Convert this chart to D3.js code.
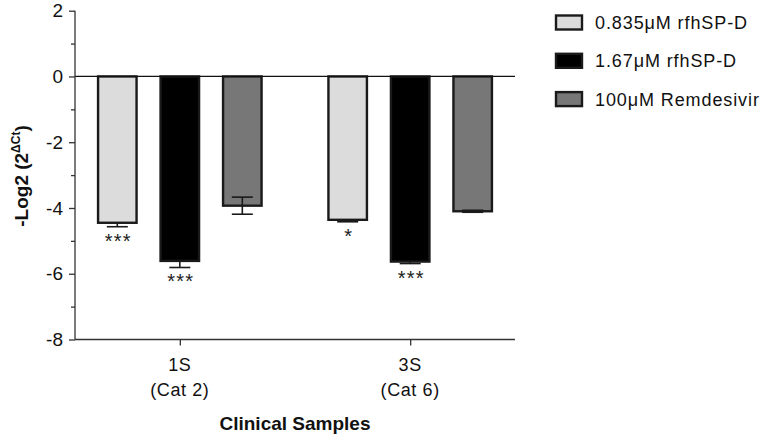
<!DOCTYPE html>
<html>
<head>
<meta charset="utf-8">
<script src="https://cdn.jsdelivr.net/npm/d3@7"></script>
<style>
  html, body { margin: 0; padding: 0; background: #fff; }
  svg { display: block; font-family: "Liberation Sans", Arial, Helvetica, sans-serif; }
</style>
</head>
<body>
<svg id="chart" width="762" height="436"></svg>
<script>
// ---- data ----
const categories = ["1S", "3S"];
const categorySub = ["(Cat 2)", "(Cat 6)"];
const seriesNames = ["0.835\u03BCM rfhSP-D", "1.67\u03BCM rfhSP-D", "100\u03BCM Remdesivir"];
const seriesColors = ["#dcdcdc", "#000000", "#777777"];
const lowDose = [-4.45, -4.36];
const highDose = [-5.61, -5.63];
const remdesivir = [-3.93, -4.10];
const lowDoseErr = [0.12, 0.06];
const highDoseErr = [0.20, 0.06];
const remdesivirErr = [0.26, 0.03];
const lowDoseSig = ["***", "*"];
const highDoseSig = ["***", "***"];
const remdesivirSig = ["", ""];
const errBothWays = [false, false, true];
const yTicks = [-8, -6, -4, -2, 0, 2];
const yMinorTicks = [-7, -5, -3, -1, 1];

const seriesValues = [lowDose, highDose, remdesivir];
const seriesErrs = [lowDoseErr, highDoseErr, remdesivirErr];
const seriesSig = [lowDoseSig, highDoseSig, remdesivirSig];

// ---- layout ----
const svg = d3.select("#chart");
const mLeft = 75, mRight = 515, mTop = 10.7, mBottom = 339.5;

const y = d3.scaleLinear().domain([-8, 2]).range([mBottom, mTop]);
const x0 = d3.scalePoint().domain(categories).range([mLeft, mRight]).padding(0.455);
const x1 = d3.scaleBand().domain(seriesNames).range([-81.75, 81.75]).paddingInner(0.384).paddingOuter(0);

const rows = [];
categories.forEach((c, ci) => {
  seriesNames.forEach((s, si) => {
    rows.push({cat: c, ci, s, si, v: seriesValues[si][ci], e: seriesErrs[si][ci], sig: seriesSig[si][ci]});
  });
});

// bars
const bw = x1.bandwidth();
svg.append("g").selectAll("rect").data(rows).join("rect")
  .attr("x", d => x0(d.cat) + x1(d.s))
  .attr("y", d => y(0))
  .attr("width", bw)
  .attr("height", d => y(d.v) - y(0))
  .attr("fill", d => seriesColors[d.si])
  .attr("stroke", "#1a1a1a")
  .attr("stroke-width", 2.4);

// error bars
const eg = svg.append("g").attr("stroke", "#1a1a1a").attr("stroke-width", 1.6);
rows.forEach(d => {
  const cx = x0(d.cat) + x1(d.s) + bw / 2;
  const lo = d.v - d.e;
  const hi = errBothWays[d.si] ? d.v + d.e : d.v;
  eg.append("line").attr("x1", cx).attr("x2", cx).attr("y1", y(hi)).attr("y2", y(lo));
  eg.append("line").attr("x1", cx - 10.5).attr("x2", cx + 10.5).attr("y1", y(lo)).attr("y2", y(lo));
  if (errBothWays[d.si]) {
    eg.append("line").attr("x1", cx - 10.5).attr("x2", cx + 10.5).attr("y1", y(hi)).attr("y2", y(hi));
  }
});

// significance stars
svg.append("g").selectAll("text").data(rows.filter(d => d.sig)).join("text")
  .attr("x", d => x0(d.cat) + x1(d.s) + bw / 2 + 1)
  .attr("y", d => y(d.v - d.e) + 21)
  .attr("text-anchor", "middle")
  .attr("font-size", 20)
  .attr("letter-spacing", 1.2)
  .attr("fill", "#222")
  .text(d => d.sig);

// zero line
svg.append("line")
  .attr("x1", mLeft).attr("x2", mRight)
  .attr("y1", y(0)).attr("y2", y(0))
  .attr("stroke", "#111").attr("stroke-width", 1.2);

// y axis
const yAxis = d3.axisLeft(y).tickValues(yTicks).tickSize(6).tickPadding(6).tickFormat(d => String(d));
const yg = svg.append("g").attr("transform", `translate(${mLeft},0)`).call(yAxis);
yg.select(".domain").attr("stroke", "#333").attr("stroke-width", 1.3).attr("d", `M-0,${y(2)}V${y(-8)}`);
yg.selectAll(".tick line").attr("stroke", "#333").attr("stroke-width", 1.3);
yg.selectAll(".tick text").attr("font-size", 19).attr("fill", "#111").attr("font-family", "Liberation Sans, Arial, sans-serif");
const yMinor = d3.axisLeft(y).tickValues(yMinorTicks).tickSize(4).tickFormat("");
const ym = svg.append("g").attr("transform", `translate(${mLeft},0)`).call(yMinor);
ym.select(".domain").remove();
ym.selectAll(".tick line").attr("stroke", "#333").attr("stroke-width", 1.3);

// x axis
const xAxis = d3.axisBottom(x0).tickSize(6).tickFormat("");
const xg = svg.append("g").attr("transform", `translate(0,${mBottom})`).call(xAxis);
xg.select(".domain").attr("stroke", "#333").attr("stroke-width", 1.3).attr("d", `M${mLeft},0H${mRight}`);
xg.selectAll(".tick line").attr("stroke", "#333").attr("stroke-width", 1.3);

// category labels
const cl = svg.append("g").attr("font-size", 18).attr("fill", "#111").attr("text-anchor", "middle").attr("letter-spacing", 0.6);
categories.forEach((c, i) => {
  cl.append("text").attr("x", x0(c)).attr("y", 371).text(c);
  cl.append("text").attr("x", x0(c)).attr("y", 395.5).text(categorySub[i]);
});

// x title
svg.append("text")
  .attr("x", 295).attr("y", 430)
  .attr("text-anchor", "middle")
  .attr("font-size", 19).attr("font-weight", "bold").attr("fill", "#111")
  .text("Clinical Samples");

// y title
const yt = svg.append("text")
  .attr("transform", "translate(28,176) rotate(-90)")
  .attr("text-anchor", "middle")
  .attr("font-size", 19).attr("font-weight", "bold").attr("fill", "#111");
yt.append("tspan").text("-Log2 (2");
yt.append("tspan").attr("font-size", 12).attr("dy", -8).text("\u0394Ct");
yt.append("tspan").attr("dy", 8).text(")");

// legend
const lg = svg.append("g");
seriesNames.forEach((s, i) => {
  const cy = 22.5 + i * 38.3;
  lg.append("rect").attr("x", 556).attr("y", cy - 7).attr("width", 26).attr("height", 14)
    .attr("fill", seriesColors[i]).attr("stroke", "#1a1a1a").attr("stroke-width", 2.4);
  lg.append("text").attr("x", 595).attr("y", cy + 6.5)
    .attr("font-size", 18).attr("letter-spacing", 0.9).attr("fill", "#111").text(s);
});
</script>
</body>
</html>
